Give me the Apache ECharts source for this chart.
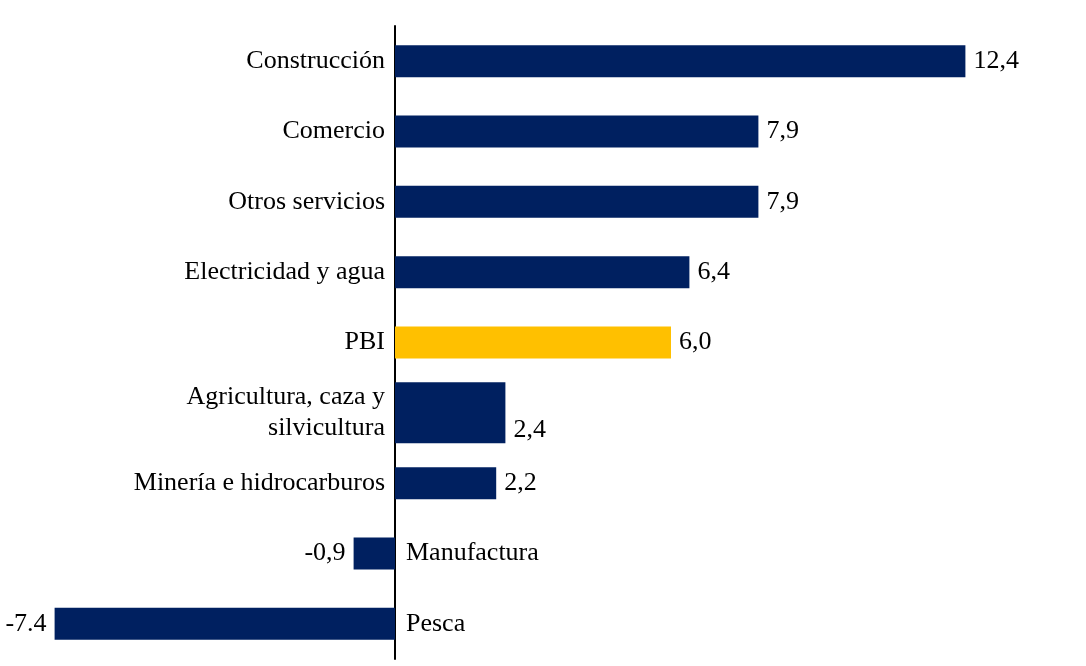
<!DOCTYPE html>
<html>
<head>
<meta charset="utf-8">
<script src="https://cdn.jsdelivr.net/npm/echarts@6/dist/echarts.min.js"></script>
<style>
  html, body { margin: 0; padding: 0; background: #ffffff; }
  #chart { width: 1086px; height: 666px; }
</style>
</head>
<body>
<div id="chart"></div>
<script>
// Variación porcentual por sector económico
const categories = [
  'Construcción',
  'Comercio',
  'Otros servicios',
  'Electricidad y agua',
  'PBI',
  'Agricultura, caza y\nsilvicultura',
  'Minería e hidrocarburos',
  'Manufactura',
  'Pesca'
];
const values = [12.4, 7.9, 7.9, 6.4, 6.0, 2.4, 2.2, -0.9, -7.4];
const valueLabels = ['12,4', '7,9', '7,9', '6,4', '6,0', '2,4', '2,2', '-0,9', '-7.4'];
const highlightCategory = 'PBI';
const wideCategory = 'Agricultura, caza y\nsilvicultura';

const NAVY = '#002060';
const GOLD = '#FFC000';
const FONT = '"Liberation Serif", "Times New Roman", serif';
const FONT_SIZE = 26;

const chart = echarts.init(document.getElementById('chart'), null, { renderer: 'canvas' });

function barItem(v, i) {
  return {
    value: v,
    itemStyle: { color: categories[i] === highlightCategory ? GOLD : NAVY }
  };
}

const textStyle = { color: '#000', fontFamily: FONT, fontSize: FONT_SIZE };

const valueLabel = Object.assign({
  show: true,
  position: 'outside',
  distance: 8,
  formatter: p => valueLabels[p.dataIndex]
}, textStyle);

// three category axes share the grid: normal bars, the tall bar, and the sector names
function categoryAxis(showLine) {
  return {
    type: 'category',
    data: categories,
    inverse: true,
    position: 'left',
    axisLine: { show: showLine, onZero: true, onZeroAxisIndex: 0, lineStyle: { color: '#000', width: 2 } },
    axisTick: { show: false },
    axisLabel: { show: false },
    splitLine: { show: false }
  };
}

const option = {
  backgroundColor: '#ffffff',
  animation: false,
  grid: { left: 27, right: 93, top: 26, bottom: 7, containLabel: false, outerBoundsMode: 'none' },
  xAxis: {
    type: 'value',
    min: -8,
    max: 13,
    axisLine: { show: false },
    axisTick: { show: false },
    axisLabel: { show: false },
    splitLine: { show: false }
  },
  yAxis: [categoryAxis(true), categoryAxis(false), categoryAxis(false)],
  series: [
    {
      type: 'bar',
      yAxisIndex: 0,
      barWidth: 32,
      data: values.map((v, i) => (categories[i] === wideCategory ? '-' : barItem(v, i))),
      label: valueLabel,
      z: 2
    },
    {
      // the two-line sector gets a taller bar
      type: 'bar',
      yAxisIndex: 1,
      barWidth: 61,
      data: values.map((v, i) => (categories[i] === wideCategory ? barItem(v, i) : '-')),
      label: Object.assign({}, valueLabel, { offset: [0, 17] }),
      z: 2
    },
    {
      // sector names beside the zero line, on the side opposite to the bar
      type: 'bar',
      yAxisIndex: 2,
      barWidth: 30,
      silent: true,
      itemStyle: { color: 'rgba(0,0,0,0)' },
      data: values.map((v, i) => ({
        value: v,
        label: {
          position: v >= 0 ? 'left' : 'right',
          distance: v >= 0 ? 10 : 11
        }
      })),
      label: Object.assign({
        show: true,
        lineHeight: 31,
        formatter: p => categories[p.dataIndex]
      }, textStyle),
      z: 3
    }
  ]
};

chart.setOption(option);
</script>
</body>
</html>
